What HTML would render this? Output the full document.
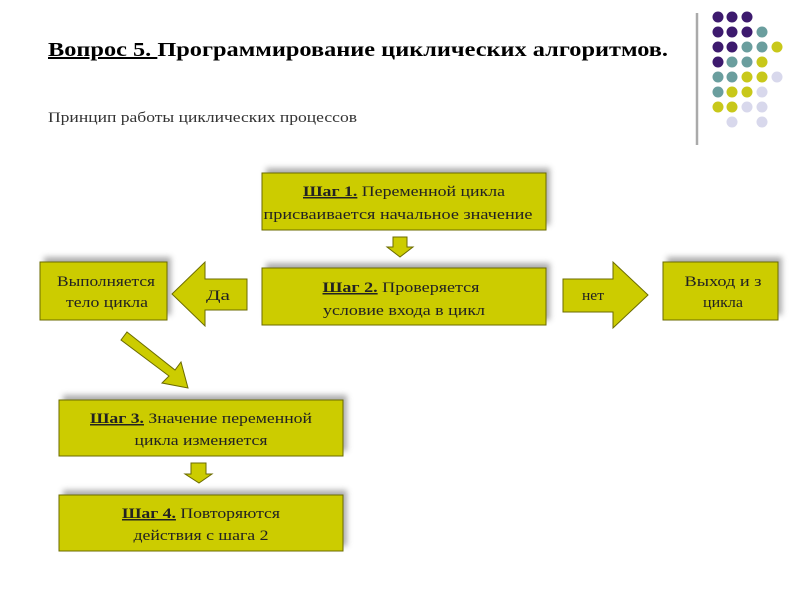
<!DOCTYPE html>
<html><head><meta charset="utf-8"><style>
body{margin:0;background:#fff;width:800px;height:600px;overflow:hidden}
svg{display:block}
text{font-family:"Liberation Serif",serif;fill:#222}
</style></head><body>
<svg width="800" height="600" viewBox="0 0 800 600">
<defs><filter id="b" x="-20%" y="-40%" width="140%" height="180%"><feGaussianBlur stdDeviation="3"/></filter></defs>
<text x="48" y="56" font-size="20" font-weight="bold" style="fill:#000" textLength="620" lengthAdjust="spacingAndGlyphs"><tspan text-decoration="underline">Вопрос 5. </tspan>Программирование циклических алгоритмов.</text>
<text x="48" y="122" font-size="15" style="fill:#333" textLength="309" lengthAdjust="spacingAndGlyphs">Принцип работы циклических процессов</text>
<line x1="697" y1="13" x2="697" y2="145" stroke="#aaa" stroke-width="2.5"/>
<g>
<circle cx="718" cy="17" r="5.5" fill="#3d1a6e"/><circle cx="732" cy="17" r="5.5" fill="#3d1a6e"/><circle cx="747" cy="17" r="5.5" fill="#3d1a6e"/>
<circle cx="718" cy="32" r="5.5" fill="#3d1a6e"/><circle cx="732" cy="32" r="5.5" fill="#3d1a6e"/><circle cx="747" cy="32" r="5.5" fill="#3d1a6e"/><circle cx="762" cy="32" r="5.5" fill="#6a9e9e"/>
<circle cx="718" cy="47" r="5.5" fill="#3d1a6e"/><circle cx="732" cy="47" r="5.5" fill="#3d1a6e"/><circle cx="747" cy="47" r="5.5" fill="#6a9e9e"/><circle cx="762" cy="47" r="5.5" fill="#6a9e9e"/><circle cx="777" cy="47" r="5.5" fill="#c8c81a"/>
<circle cx="718" cy="62" r="5.5" fill="#3d1a6e"/><circle cx="732" cy="62" r="5.5" fill="#6a9e9e"/><circle cx="747" cy="62" r="5.5" fill="#6a9e9e"/><circle cx="762" cy="62" r="5.5" fill="#c8c81a"/>
<circle cx="718" cy="77" r="5.5" fill="#6a9e9e"/><circle cx="732" cy="77" r="5.5" fill="#6a9e9e"/><circle cx="747" cy="77" r="5.5" fill="#c8c81a"/><circle cx="762" cy="77" r="5.5" fill="#c8c81a"/><circle cx="777" cy="77" r="5.5" fill="#d8d8ec"/>
<circle cx="718" cy="92" r="5.5" fill="#6a9e9e"/><circle cx="732" cy="92" r="5.5" fill="#c8c81a"/><circle cx="747" cy="92" r="5.5" fill="#c8c81a"/><circle cx="762" cy="92" r="5.5" fill="#d8d8ec"/>
<circle cx="718" cy="107" r="5.5" fill="#c8c81a"/><circle cx="732" cy="107" r="5.5" fill="#c8c81a"/><circle cx="747" cy="107" r="5.5" fill="#d8d8ec"/><circle cx="762" cy="107" r="5.5" fill="#d8d8ec"/>
<circle cx="732" cy="122" r="5.5" fill="#d8d8ec"/><circle cx="762" cy="122" r="5.5" fill="#d8d8ec"/>
</g>
<g fill="#999" filter="url(#b)" opacity="0.8">
<rect x="266" y="168" width="284" height="57"/><rect x="266" y="263" width="284" height="57"/>
<rect x="44" y="257" width="127" height="58"/><rect x="667" y="257" width="115" height="58"/>
<rect x="63" y="395" width="284" height="56"/><rect x="63" y="490" width="284" height="56"/>
</g>
<g fill="#cccc00" stroke="#6b6b00" stroke-width="1">
<rect x="262" y="173" width="284" height="57"/>
<rect x="262" y="268" width="284" height="57"/>
<rect x="40" y="262" width="127" height="58"/>
<rect x="663" y="262" width="115" height="58"/>
<rect x="59" y="400" width="284" height="56"/>
<rect x="59" y="495" width="284" height="56"/>
<polygon points="393,237 407,237 407,247 413,247 400,257 387,247 393,247"/>
<polygon points="191,463 206,463 206,474 212,474 199,483 185,474 191,474"/>
<polygon points="247,279 205,279 205,262 172,294 205,326 205,310 247,310"/>
<polygon points="563,279 613,279 613,262 648,295 613,328 613,312 563,312"/>
<polygon points="127,332 175,370 181,362 188,388 162,383 169,376 121,340"/>
</g>
<g font-size="15" text-anchor="middle">
<text x="404" y="196" textLength="202" lengthAdjust="spacingAndGlyphs"><tspan font-weight="bold" text-decoration="underline">Шаг 1.</tspan> Переменной цикла</text>
<text x="398" y="219" textLength="269" lengthAdjust="spacingAndGlyphs">присваивается начальное значение</text>
<text x="401" y="292" textLength="157" lengthAdjust="spacingAndGlyphs"><tspan font-weight="bold" text-decoration="underline">Шаг 2.</tspan> Проверяется</text>
<text x="404" y="315" textLength="162" lengthAdjust="spacingAndGlyphs">условие входа в цикл</text>
<text x="106" y="286" textLength="98" lengthAdjust="spacingAndGlyphs">Выполняется</text>
<text x="107" y="307" textLength="82" lengthAdjust="spacingAndGlyphs">тело цикла</text>
<text x="723" y="286" textLength="77" lengthAdjust="spacingAndGlyphs">Выход и з</text>
<text x="723" y="307" textLength="40" lengthAdjust="spacingAndGlyphs">цикла</text>
<text x="218" y="300" textLength="24" lengthAdjust="spacingAndGlyphs">Да</text>
<text x="593" y="300" textLength="22" lengthAdjust="spacingAndGlyphs">нет</text>
<text x="201" y="423" textLength="222" lengthAdjust="spacingAndGlyphs"><tspan font-weight="bold" text-decoration="underline">Шаг 3.</tspan> Значение переменной</text>
<text x="201" y="445" textLength="133" lengthAdjust="spacingAndGlyphs">цикла изменяется</text>
<text x="201" y="518" textLength="158" lengthAdjust="spacingAndGlyphs"><tspan font-weight="bold" text-decoration="underline">Шаг 4.</tspan> Повторяются</text>
<text x="201" y="540" textLength="135" lengthAdjust="spacingAndGlyphs">действия с шага 2</text>
</g>
</svg>
</body></html>
